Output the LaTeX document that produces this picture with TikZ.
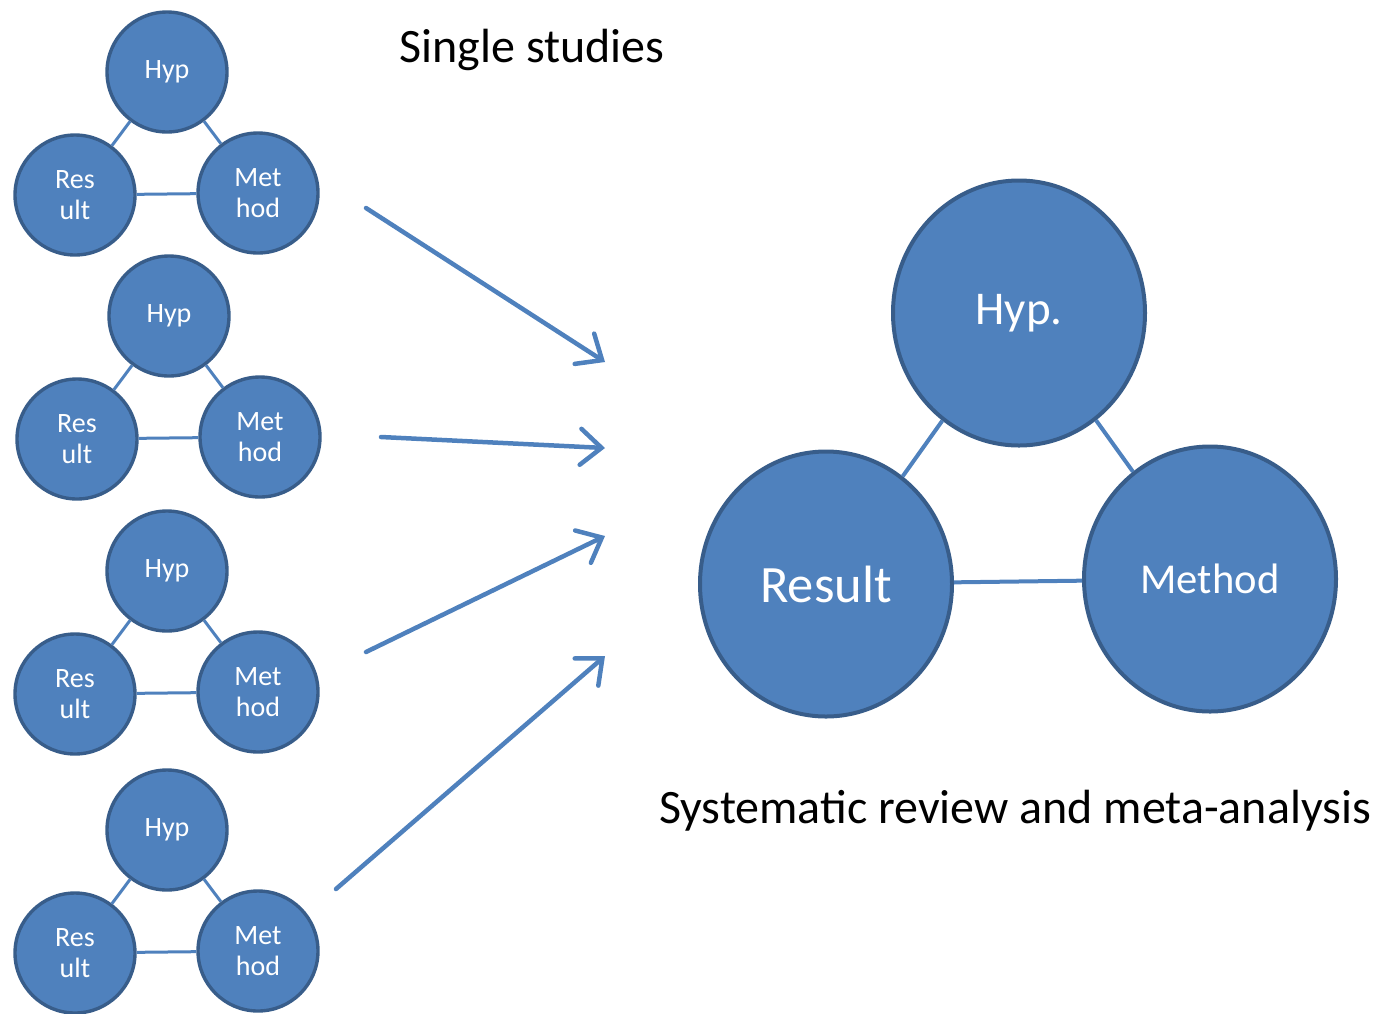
\documentclass[tikz,border=0pt]{standalone}
\usepackage{fontspec}
\setmainfont{Carlito}
\usetikzlibrary{arrows.meta,positioning,shapes.geometric}
\definecolor{OfficeBlue}{HTML}{4F81BD}
\definecolor{OfficeEdge}{HTML}{385D8A}
\tikzset{
  smallcirc/.style={circle, draw=OfficeEdge, fill=OfficeBlue, line width=3.4pt, minimum size=120pt, inner sep=0pt, align=center, text=white, font=\fontsize{28}{31}\selectfont},
  bigcirc/.style={ellipse, draw=OfficeEdge, fill=OfficeBlue, line width=4pt, minimum width=252pt, minimum height=265pt, inner sep=0pt, align=center, text=white},
  link/.style={draw=OfficeBlue, line width=3pt},
  arrow/.style={-{Straight Barb[length=21pt, width=36pt, line cap=round]}, draw=OfficeBlue, line width=4.5pt, line cap=round},
  caption/.style={font=\fontsize{48}{56}\selectfont}
}
\begin{document}
\begin{tikzpicture}[x=1pt, y=-1pt]
\useasboundingbox (0,0) rectangle (1379,1013);

% single studies
\foreach \i/\x/\y in {1/167/72, 2/169/316, 3/167/571, 4/167/830} {
  \node[smallcirc] (hyp\i) at (\x,\y) {Hyp};
  \node[smallcirc] (res\i) at (\x-92,\y+123) {Res\\ult};
  \node[smallcirc] (met\i) at (\x+91,\y+121) {Met\\hod};
  \draw[link] (hyp\i) -- (res\i);
  \draw[link] (hyp\i) -- (met\i);
  \draw[link] (res\i) -- (met\i);
}
\node[caption] (single) at (532,50) {Single studies};

% synthesis
\node[bigcirc, font=\fontsize{47}{55}\selectfont] (hyp) at (1019,313) {Hyp.};
\node[bigcirc, font=\fontsize{52.5}{60}\selectfont] (result) at (826,584) {Result};
\node[bigcirc, font=\fontsize{42.6}{50}\selectfont] (method) at (1210,579) {Method};
\draw[link, line width=4pt] (hyp) -- (result);
\draw[link, line width=4pt] (hyp) -- (method);
\draw[link, line width=4pt] (result) -- (method);
\node[caption] (review) at (1015,811) {Systematic review and meta-analysis};

% arrows into the review
\coordinate (s1) at (366,208);
\coordinate (s2) at (381,437);
\coordinate (s3) at (366,652);
\coordinate (s4) at (336,889);
\coordinate (t1) at (605,362);
\coordinate (t2) at (605,448);
\coordinate (t3) at (605,536);
\coordinate (t4) at (605,656);
\draw[arrow] (s1) -- (t1);
\draw[arrow] (s2) -- (t2);
\draw[arrow] (s3) -- (t3);
\draw[arrow] (s4) -- (t4);
\end{tikzpicture}
\end{document}
